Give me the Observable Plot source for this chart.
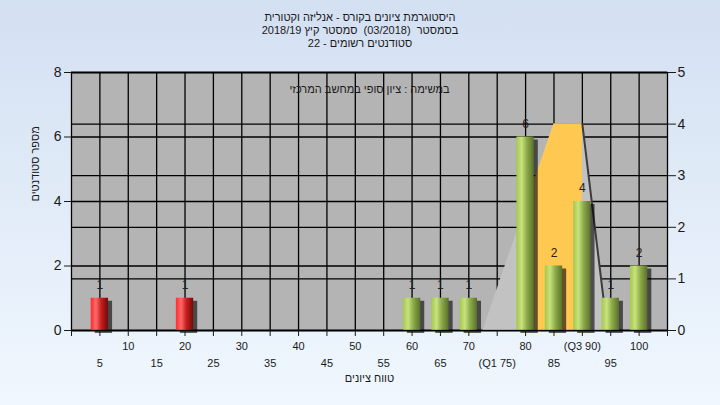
<!DOCTYPE html>
<html><head><meta charset="utf-8">
<script src="https://cdn.jsdelivr.net/npm/d3@7"></script>
<script src="https://cdn.jsdelivr.net/npm/@observablehq/plot@0.6"></script>
<style>
html,body{margin:0;padding:0;}
#wrap{width:720px;height:405px;background:linear-gradient(#d3e0f2,#f0f7fe);font-family:"Liberation Sans",Arial,sans-serif;position:relative;overflow:hidden;color:#1a1a1a}
#title{height:52px;box-sizing:border-box;padding-top:11px;text-align:center;font-size:11px;line-height:13px;direction:rtl;white-space:pre}
#chart svg{display:block}
</style></head>
<body>
<svg width="0" height="0" style="position:absolute">
<defs>
<linearGradient id="gRed" x1="0" x2="1" y1="0" y2="0">
<stop offset="0" stop-color="#ff2b2b"/><stop offset="0.3" stop-color="#ff6a6a"/><stop offset="0.6" stop-color="#c81e1e"/><stop offset="1" stop-color="#6e0c0c"/>
</linearGradient>
<linearGradient id="gGreen" x1="0" x2="1" y1="0" y2="0">
<stop offset="0" stop-color="#a4c84c"/><stop offset="0.3" stop-color="#c8e27e"/><stop offset="0.6" stop-color="#8cab48"/><stop offset="1" stop-color="#5a702c"/>
</linearGradient>
<filter id="blur" x="-50%" y="-50%" width="200%" height="200%"><feGaussianBlur stdDeviation="2.2"/></filter>
</defs></svg>
<div id="wrap"><div id="title"></div><div id="chart"></div></div>
<script>
// ---- data ----
const titleLines = ["היסטוגרמת ציונים בקורס - אנליזה וקטורית", "בסמסטר  (03/2018)  סמסטר קיץ 2018/19", "סטודנטים רשומים - 22"];
const innerLabel = "במשימה : ציון סופי במחשב המרכזי";
const yTitle = "מספר סטודנטים";
const xTitle = "טווח ציונים";
const grades = [5, 20, 60, 65, 70, 80, 85, 90, 95, 100];
const counts = [1, 1, 1, 1, 1, 6, 2, 4, 1, 2];
const barClass = ["fail", "fail", "pass", "pass", "pass", "pass", "pass", "pass", "pass", "pass"];
const leftTicks = [0, 2, 4, 6, 8];
const rightTicks = [0, 1, 2, 3, 4, 5];
const xTicksAll = [0, 5, 10, 15, 20, 25, 30, 35, 40, 45, 50, 55, 60, 65, 70, 75, 80, 85, 90, 95, 100, 105];
const xGrid = [5, 10, 15, 20, 25, 30, 35, 40, 45, 50, 55, 60, 65, 70, 75, 80, 85, 90, 95, 100];
const upperTicks = [10, 20, 30, 40, 50, 60, 70, 80, 90, 100];
const upperLabels = ["10", "20", "30", "40", "50", "60", "70", "80", "(Q3 90)", "100"];
const lowerTicks = [5, 15, 25, 35, 45, 55, 65, 75, 85, 95];
const lowerLabels = ["5", "15", "25", "35", "45", "55", "65", "(Q1 75)", "85", "95"];
// distribution shape (right axis units)
const distX = [72.5, 85, 90, 94.4];
const distY = [0, 4, 4, 0];
const quartX = [81.7, 85, 90];
const quartY = [2.95, 4, 4];
const edgeX = [90, 94.4];
const edgeY = [4, 0];

// ---- build ----
const tEl = document.getElementById("title");
titleLines.forEach(t => { const d = document.createElement("div"); d.textContent = t; tEl.appendChild(d); });
const k = 8 / 5; // right axis -> left axis units
const bars = grades.map((g, i) => ({g, c: counts[i], cls: barClass[i]}));
const dist = distX.map((x, i) => ({x, y: distY[i] * k}));
const quart = quartX.map((x, i) => ({x, y: quartY[i] * k}));
const edge = edgeX.map((x, i) => ({x, y: edgeY[i] * k}));
const hw = 1.53;
const gridStyle = {stroke: "#000", strokeOpacity: 1, strokeWidth: 1.3};

const chart = Plot.plot({
  width: 720, height: 353,
  marginTop: 20, marginBottom: 75, marginLeft: 71, marginRight: 53,
  x: {domain: [0, 105], axis: null},
  y: {domain: [0, 8], axis: null},
  style: {background: "transparent", fontFamily: '"Liberation Sans", Arial, sans-serif', color: "#1a1a1a"},
  marks: [
    Plot.frame({fill: "#b4b4b4"}),
    Plot.gridY(leftTicks, gridStyle),
    Plot.gridY(rightTicks.map(v => v * k), gridStyle),
    Plot.gridX(xGrid, gridStyle),
    Plot.areaY(dist, {x: "x", y: "y", fill: "#c2c2c2"}),
    Plot.areaY(quart, {x: "x", y: "y", fill: "#ffc850"}),
    Plot.line(edge, {x: "x", y: "y", stroke: "#3c3c3c", strokeWidth: 2}),
    Plot.rect(bars, {x1: d => d.g - hw, x2: d => d.g + hw, y1: 0, y2: "c", fill: "#000", fillOpacity: 0.6, dx: 4, dy: 3, ariaLabel: "shadow"}),
    Plot.rect(bars.filter(d => d.cls === "fail"), {x1: d => d.g - hw, x2: d => d.g + hw, y1: 0, y2: "c", fill: "url(#gRed)"}),
    Plot.rect(bars.filter(d => d.cls === "pass"), {x1: d => d.g - hw, x2: d => d.g + hw, y1: 0, y2: "c", fill: "url(#gGreen)"}),
    Plot.text(bars, {x: "g", y: "c", text: "c", dy: -13, fontSize: 12, fill: "#222"}),
    Plot.frame({stroke: "#000", strokeWidth: 1.3}),
    Plot.text([innerLabel], {frameAnchor: "top", dy: 13, fontSize: 11, fill: "#1a1a1a"}),
    Plot.axisY(leftTicks, {anchor: "left", tickSize: 7, tickPadding: 3, fontSize: 14, label: null}),
    Plot.axisY(rightTicks.map(v => v * k), {anchor: "right", tickSize: 8, tickPadding: 2, fontSize: 14, label: null, tickFormat: d => String(Math.round(d / k))}),
    Plot.axisX(xTicksAll, {anchor: "bottom", tickSize: 6, tickFormat: () => "", label: null}),
    Plot.axisX(upperTicks, {anchor: "bottom", tickSize: 0, tickPadding: 12, fontSize: 11, label: null, tickFormat: d => upperLabels[upperTicks.indexOf(d)]}),
    Plot.axisX(lowerTicks, {anchor: "bottom", tickSize: 0, tickPadding: 29, fontSize: 11, label: null, tickFormat: d => lowerLabels[lowerTicks.indexOf(d)]}),
    Plot.text([yTitle], {frameAnchor: "left", dx: -36, rotate: -90, fontSize: 11, fill: "#1a1a1a"}),
    Plot.text([xTitle], {frameAnchor: "bottom", dy: 51, fontSize: 11, fill: "#1a1a1a"})
  ]
});
const sh = chart.querySelector('g[aria-label="shadow"]');
if (sh) sh.setAttribute("filter", "url(#blur)");
document.getElementById("chart").appendChild(chart);
</script>
</body></html>
